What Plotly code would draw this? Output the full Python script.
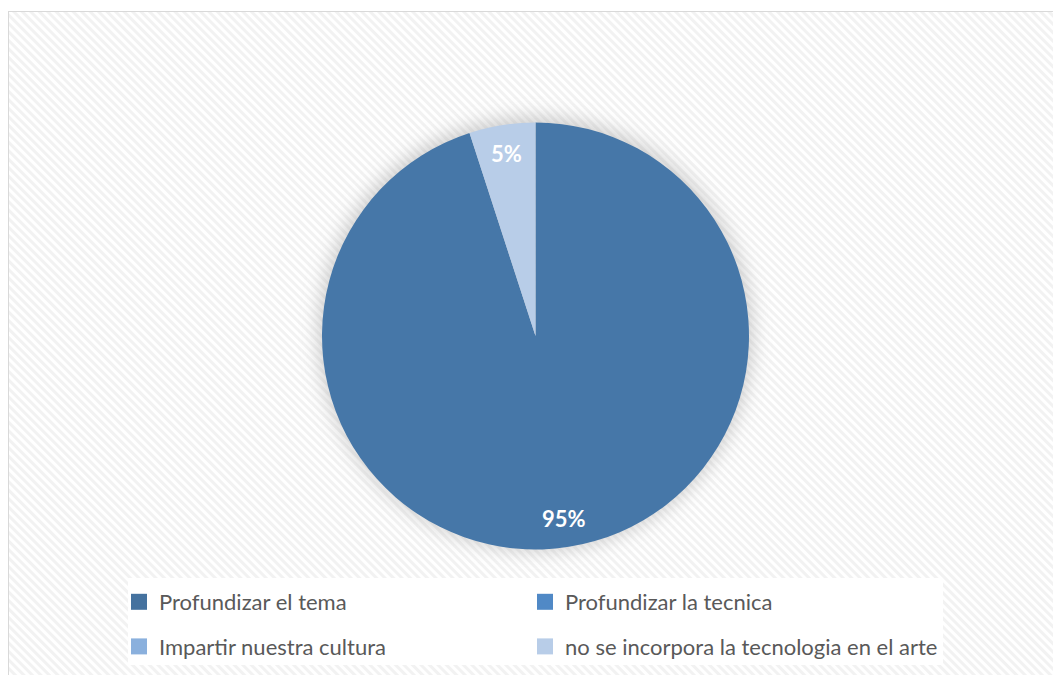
import base64
import math
import plotly.graph_objects as go

# Survey answers and their share of responses
categories = [
    "Profundizar el tema",
    "Profundizar la tecnica",
    "Impartir nuestra cultura",
    "no se incorpora la tecnologia en el arte",
]
values = [95, 0, 0, 5]
slice_colors = ["#4677A8", "#5089C6", "#8AB0DD", "#B8CDE8"]
legend_colors = ["#45729F", "#5089C6", "#8AB0DD", "#B8CDE8"]

W, H = 1053, 675
CX, CY, R = 535.5, 336.0, 213.5  # pie centre and radius in pixels

dom_x = [(CX - R) / W, (CX + R) / W]
dom_y = [(H - (CY + R)) / H, (H - (CY - R)) / H]

# Background: diagonal hatch, frame, soft glow under the pie, white legend panel
svg = f"""<svg xmlns='http://www.w3.org/2000/svg' width='{W}' height='{H}' viewBox='0 0 {W} {H}'>
<defs>
<pattern id='hatch' patternUnits='userSpaceOnUse' width='6' height='6' patternTransform='rotate(-45)'>
<rect width='6' height='6' fill='#FFFFFF'/>
<rect width='3' height='6' fill='#F2F2F2'/>
</pattern>
<filter id='blur' x='-30%' y='-30%' width='160%' height='160%'>
<feGaussianBlur stdDeviation='9'/>
</filter>
</defs>
<rect width='{W}' height='{H}' fill='#FFFFFF'/>
<rect x='8.5' y='11.5' width='{W + 10}' height='{H + 10}' fill='url(#hatch)' stroke='#D9D9D9' stroke-width='1'/>
<circle cx='{CX}' cy='{CY - 2}' r='{R + 4}' fill='#9A9A9A' fill-opacity='0.45' filter='url(#blur)'/>
<rect x='128' y='578' width='815' height='87' fill='#FFFFFF'/>
</svg>"""
bg_uri = "data:image/svg+xml;base64," + base64.b64encode(svg.encode()).decode()

fig = go.Figure()

fig.add_trace(go.Pie(
    labels=categories,
    values=values,
    marker=dict(colors=slice_colors, line=dict(width=0)),
    sort=False,
    direction="clockwise",
    rotation=0,
    textinfo="none",
    hoverinfo="label+percent",
    showlegend=False,
    domain=dict(x=dom_x, y=dom_y),
))

# Legend entries: two columns, each its own legend
for i, (name, col) in enumerate(zip(categories, legend_colors)):
    fig.add_trace(go.Scatter(
        x=[None], y=[None], mode="markers", name=name,
        marker=dict(symbol="square", size=16, color=col),
        legend="legend" if i % 2 == 0 else "legend2",
        legendgroup=f"g{i}",
        hoverinfo="skip",
    ))

# Percentage labels placed near the outer edge of each non-empty slice
total = sum(values)
annotations = []
start = 0.0
for v in values:
    if v > 0:
        mid = (start + v / 2) / total * 2 * math.pi
        rr = 0.865 * R
        px = CX + rr * math.sin(mid)
        py = CY - rr * math.cos(mid)
        annotations.append(dict(
            x=px / W, y=(H - py) / H, xref="paper", yref="paper",
            xanchor="center", yanchor="middle",
            text=f"{round(v / total * 100)}%", showarrow=False,
            font=dict(family="Lato", size=22, color="#FFFFFF", weight="bold"),
        ))
    start += v

legend_style = dict(
    orientation="v", xanchor="left", yanchor="top",
    bgcolor="rgba(0,0,0,0)", borderwidth=0, tracegroupgap=13,
    font=dict(family="Lato", size=22, color="#595959"),
    itemclick=False, itemdoubleclick=False,
)

fig.update_layout(
    width=W, height=H,
    margin=dict(l=0, r=0, t=0, b=0),
    paper_bgcolor="#FFFFFF",
    plot_bgcolor="rgba(0,0,0,0)",
    xaxis=dict(visible=False),
    yaxis=dict(visible=False),
    legend=dict(x=119 / W, y=1 - 581 / H, **legend_style),
    legend2=dict(x=525 / W, y=1 - 581 / H, **legend_style),
    annotations=annotations,
    images=[dict(source=bg_uri, xref="paper", yref="paper", x=0, y=1,
                 sizex=1, sizey=1, sizing="stretch", xanchor="left",
                 yanchor="top", layer="below")],
)

fig.write_html("out.html")
